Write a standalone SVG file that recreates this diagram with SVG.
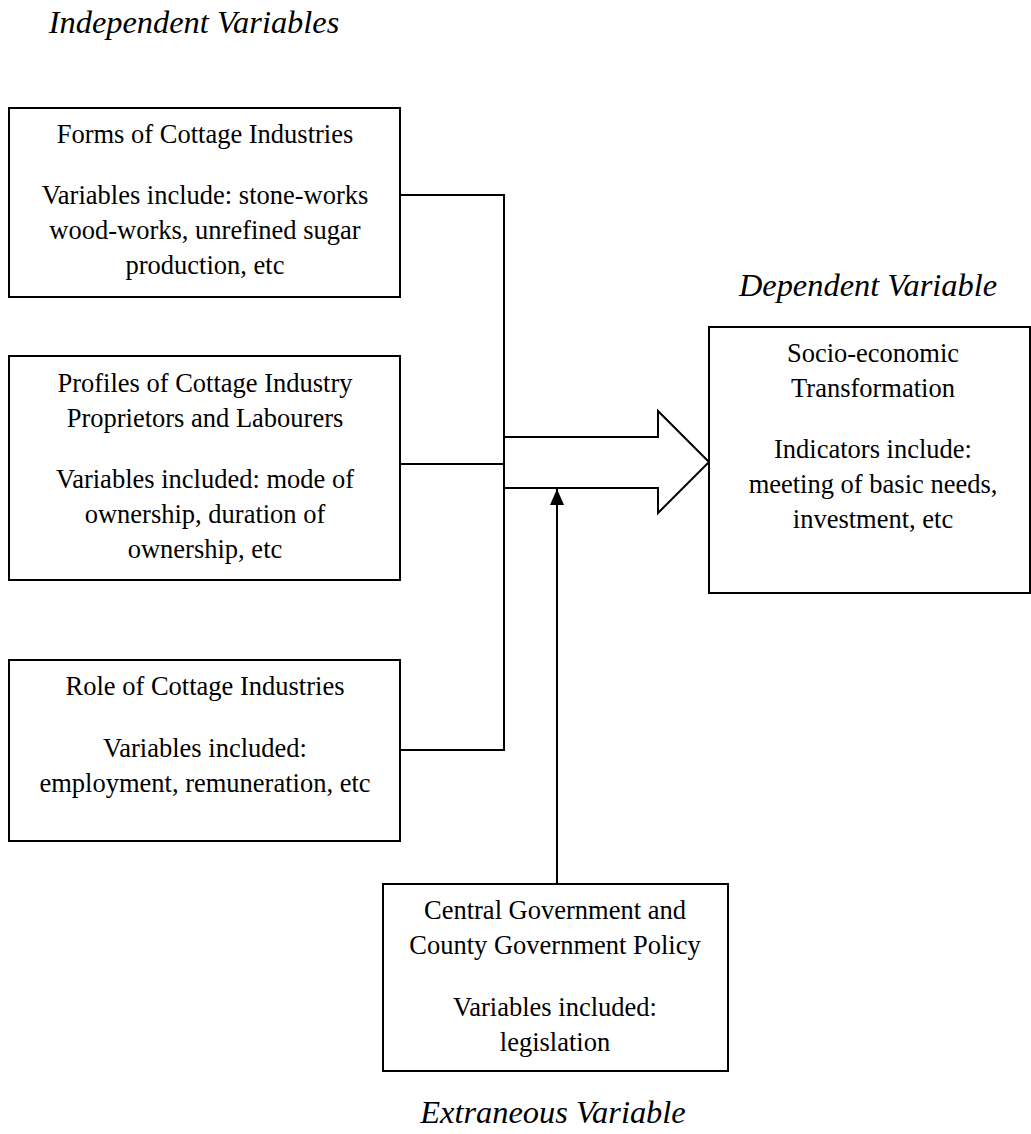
<svg xmlns="http://www.w3.org/2000/svg" width="1031" height="1134" viewBox="0 0 1031 1134">
<style>
.box{fill:#fff;stroke:#000;stroke-width:2}
.t{font-family:"Liberation Serif","Times New Roman",serif;font-size:26.5px;fill:#000;text-anchor:middle}
.h{font-family:"Liberation Serif","Times New Roman",serif;font-size:32.4px;font-style:italic;fill:#000;text-anchor:middle}
.ln{fill:none;stroke:#000;stroke-width:2}
</style>
<defs>
<marker id="ah" viewBox="0 0 10 10" refX="10" refY="5" markerWidth="16" markerHeight="14" markerUnits="userSpaceOnUse" orient="auto" preserveAspectRatio="none"><path d="M0,0 L10,5 L0,10 Z" fill="#000"/></marker>
</defs>
<text class="h" x="194" y="33">Independent Variables</text>
<text class="h" x="868" y="296">Dependent Variable</text>
<text class="h" x="553" y="1123">Extraneous Variable</text>
<g id="connectors">
<polyline class="ln" points="400,195 504,195 504,750 400,750"/>
<line class="ln" x1="400" y1="464" x2="504" y2="464"/>
<path class="ln" d="M504,437 L658,437 L658,411 L709,462 L658,513 L658,488 L504,488"/>
<line class="ln" x1="557" y1="884" x2="557" y2="489" marker-end="url(#ah)"/>
</g>
<g id="forms">
<rect class="box" x="9" y="108" width="391" height="189"/>
<text class="t" x="205" y="143">Forms of Cottage Industries</text>
<text class="t" x="205" y="204">Variables include: stone-works</text>
<text class="t" x="205" y="239">wood-works, unrefined sugar</text>
<text class="t" x="205" y="274">production, etc</text>
</g>
<g id="profiles">
<rect class="box" x="9" y="356" width="391" height="224"/>
<text class="t" x="205" y="392">Profiles of Cottage Industry</text>
<text class="t" x="205" y="427">Proprietors and Labourers</text>
<text class="t" x="205" y="488">Variables included: mode of</text>
<text class="t" x="205" y="523">ownership, duration of</text>
<text class="t" x="205" y="558">ownership, etc</text>
</g>
<g id="role">
<rect class="box" x="9" y="660" width="391" height="181"/>
<text class="t" x="205" y="695">Role of Cottage Industries</text>
<text class="t" x="205" y="757">Variables included:</text>
<text class="t" x="205" y="792">employment, remuneration, etc</text>
</g>
<g id="socio">
<rect class="box" x="709" y="327" width="321" height="266"/>
<text class="t" x="873" y="362">Socio-economic</text>
<text class="t" x="873" y="397">Transformation</text>
<text class="t" x="873" y="458">Indicators include:</text>
<text class="t" x="873" y="493">meeting of basic needs,</text>
<text class="t" x="873" y="528">investment, etc</text>
</g>
<g id="policy">
<rect class="box" x="383" y="884" width="345" height="187"/>
<text class="t" x="555" y="919">Central Government and</text>
<text class="t" x="555" y="954">County Government Policy</text>
<text class="t" x="555" y="1016">Variables included:</text>
<text class="t" x="555" y="1051">legislation</text>
</g>
</svg>
